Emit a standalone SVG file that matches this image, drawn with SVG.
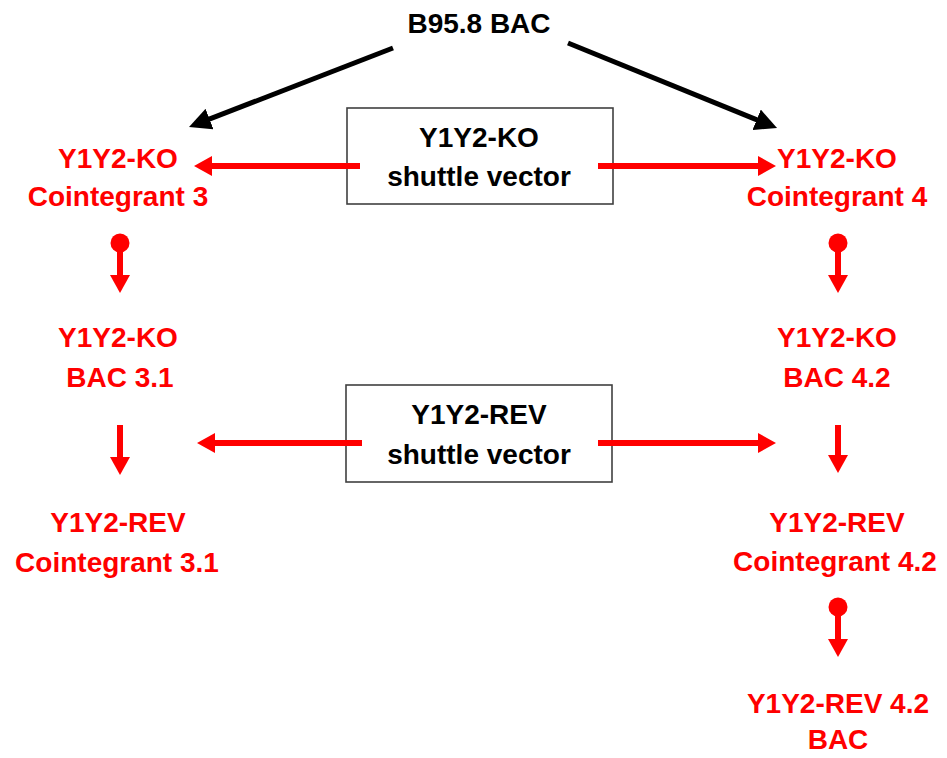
<svg xmlns="http://www.w3.org/2000/svg" width="947" height="758" viewBox="0 0 947 758">
  <style>
    text { font-family: "Liberation Sans", Arial, sans-serif; font-weight: bold; font-size: 28px; text-anchor: middle; }
    .red { fill: #FF0000; }
    .blk { fill: #000000; }
    .box { fill: #FFFFFF; stroke: #404040; stroke-width: 1.6; }
    .rl { stroke: #FF0000; stroke-width: 6; fill: none; }
    .bl { stroke: #000000; stroke-width: 5; fill: none; }
  </style>
  <defs>
    <marker id="rh" viewBox="0 0 18 20" refX="1" refY="10" markerWidth="18" markerHeight="20" markerUnits="userSpaceOnUse" orient="auto">
      <path d="M0,0 L18,10 L0,20 z" fill="#FF0000"/>
    </marker>
    <marker id="bh" viewBox="0 0 22 22" refX="1" refY="11" markerWidth="22" markerHeight="22" markerUnits="userSpaceOnUse" orient="auto">
      <path d="M0,0 L22,11 L0,22 z" fill="#000000"/>
    </marker>
  </defs>

  <g id="bac">
    <text class="blk" x="479" y="33">B95.8 BAC</text>
  </g>
  <g id="ko-shuttle">
    <rect class="box" x="347" y="108" width="266" height="96"/>
    <text class="blk" x="479" y="147">Y1Y2-KO</text>
    <text class="blk" x="479" y="186">shuttle vector</text>
  </g>
  <g id="rev-shuttle">
    <rect class="box" x="346" y="385" width="266" height="97"/>
    <text class="blk" x="479" y="424">Y1Y2-REV</text>
    <text class="blk" x="479" y="464">shuttle vector</text>
  </g>
  <g id="coint3">
    <text class="red" x="118" y="168">Y1Y2-KO</text>
    <text class="red" x="118" y="206">Cointegrant 3</text>
  </g>
  <g id="bac31">
    <text class="red" x="118" y="347">Y1Y2-KO</text>
    <text class="red" x="120" y="387">BAC 3.1</text>
  </g>
  <g id="coint31">
    <text class="red" x="118" y="532">Y1Y2-REV</text>
    <text class="red" x="117" y="572">Cointegrant 3.1</text>
  </g>
  <g id="coint4">
    <text class="red" x="837" y="168">Y1Y2-KO</text>
    <text class="red" x="837" y="206">Cointegrant 4</text>
  </g>
  <g id="bac42">
    <text class="red" x="837" y="347">Y1Y2-KO</text>
    <text class="red" x="837" y="387">BAC 4.2</text>
  </g>
  <g id="coint42">
    <text class="red" x="837" y="532">Y1Y2-REV</text>
    <text class="red" x="835" y="571">Cointegrant 4.2</text>
  </g>
  <g id="rev42">
    <text class="red" x="838" y="713">Y1Y2-REV 4.2</text>
    <text class="red" x="838" y="749">BAC</text>
  </g>

  <g id="connectors">
    <line class="bl" x1="393" y1="48" x2="208.6" y2="119.4" marker-end="url(#bh)"/>
    <line class="bl" x1="568" y1="43" x2="757.6" y2="120.1" marker-end="url(#bh)"/>
    <line class="rl" x1="360" y1="166" x2="211" y2="166" marker-end="url(#rh)"/>
    <line class="rl" x1="598" y1="166" x2="759" y2="166" marker-end="url(#rh)"/>
    <line class="rl" x1="362" y1="443" x2="214" y2="443" marker-end="url(#rh)"/>
    <line class="rl" x1="598" y1="443" x2="759" y2="443" marker-end="url(#rh)"/>
    <circle cx="120" cy="243" r="9.5" fill="#FF0000"/>
    <line class="rl" x1="120" y1="243" x2="120" y2="276" marker-end="url(#rh)"/>
    <line class="rl" x1="120" y1="425" x2="120" y2="458" marker-end="url(#rh)"/>
    <circle cx="838" cy="243" r="9.5" fill="#FF0000"/>
    <line class="rl" x1="838" y1="243" x2="838" y2="276" marker-end="url(#rh)"/>
    <line class="rl" x1="838" y1="425" x2="838" y2="456" marker-end="url(#rh)"/>
    <circle cx="838" cy="607" r="9.5" fill="#FF0000"/>
    <line class="rl" x1="838" y1="607" x2="838" y2="640" marker-end="url(#rh)"/>
  </g>
</svg>
